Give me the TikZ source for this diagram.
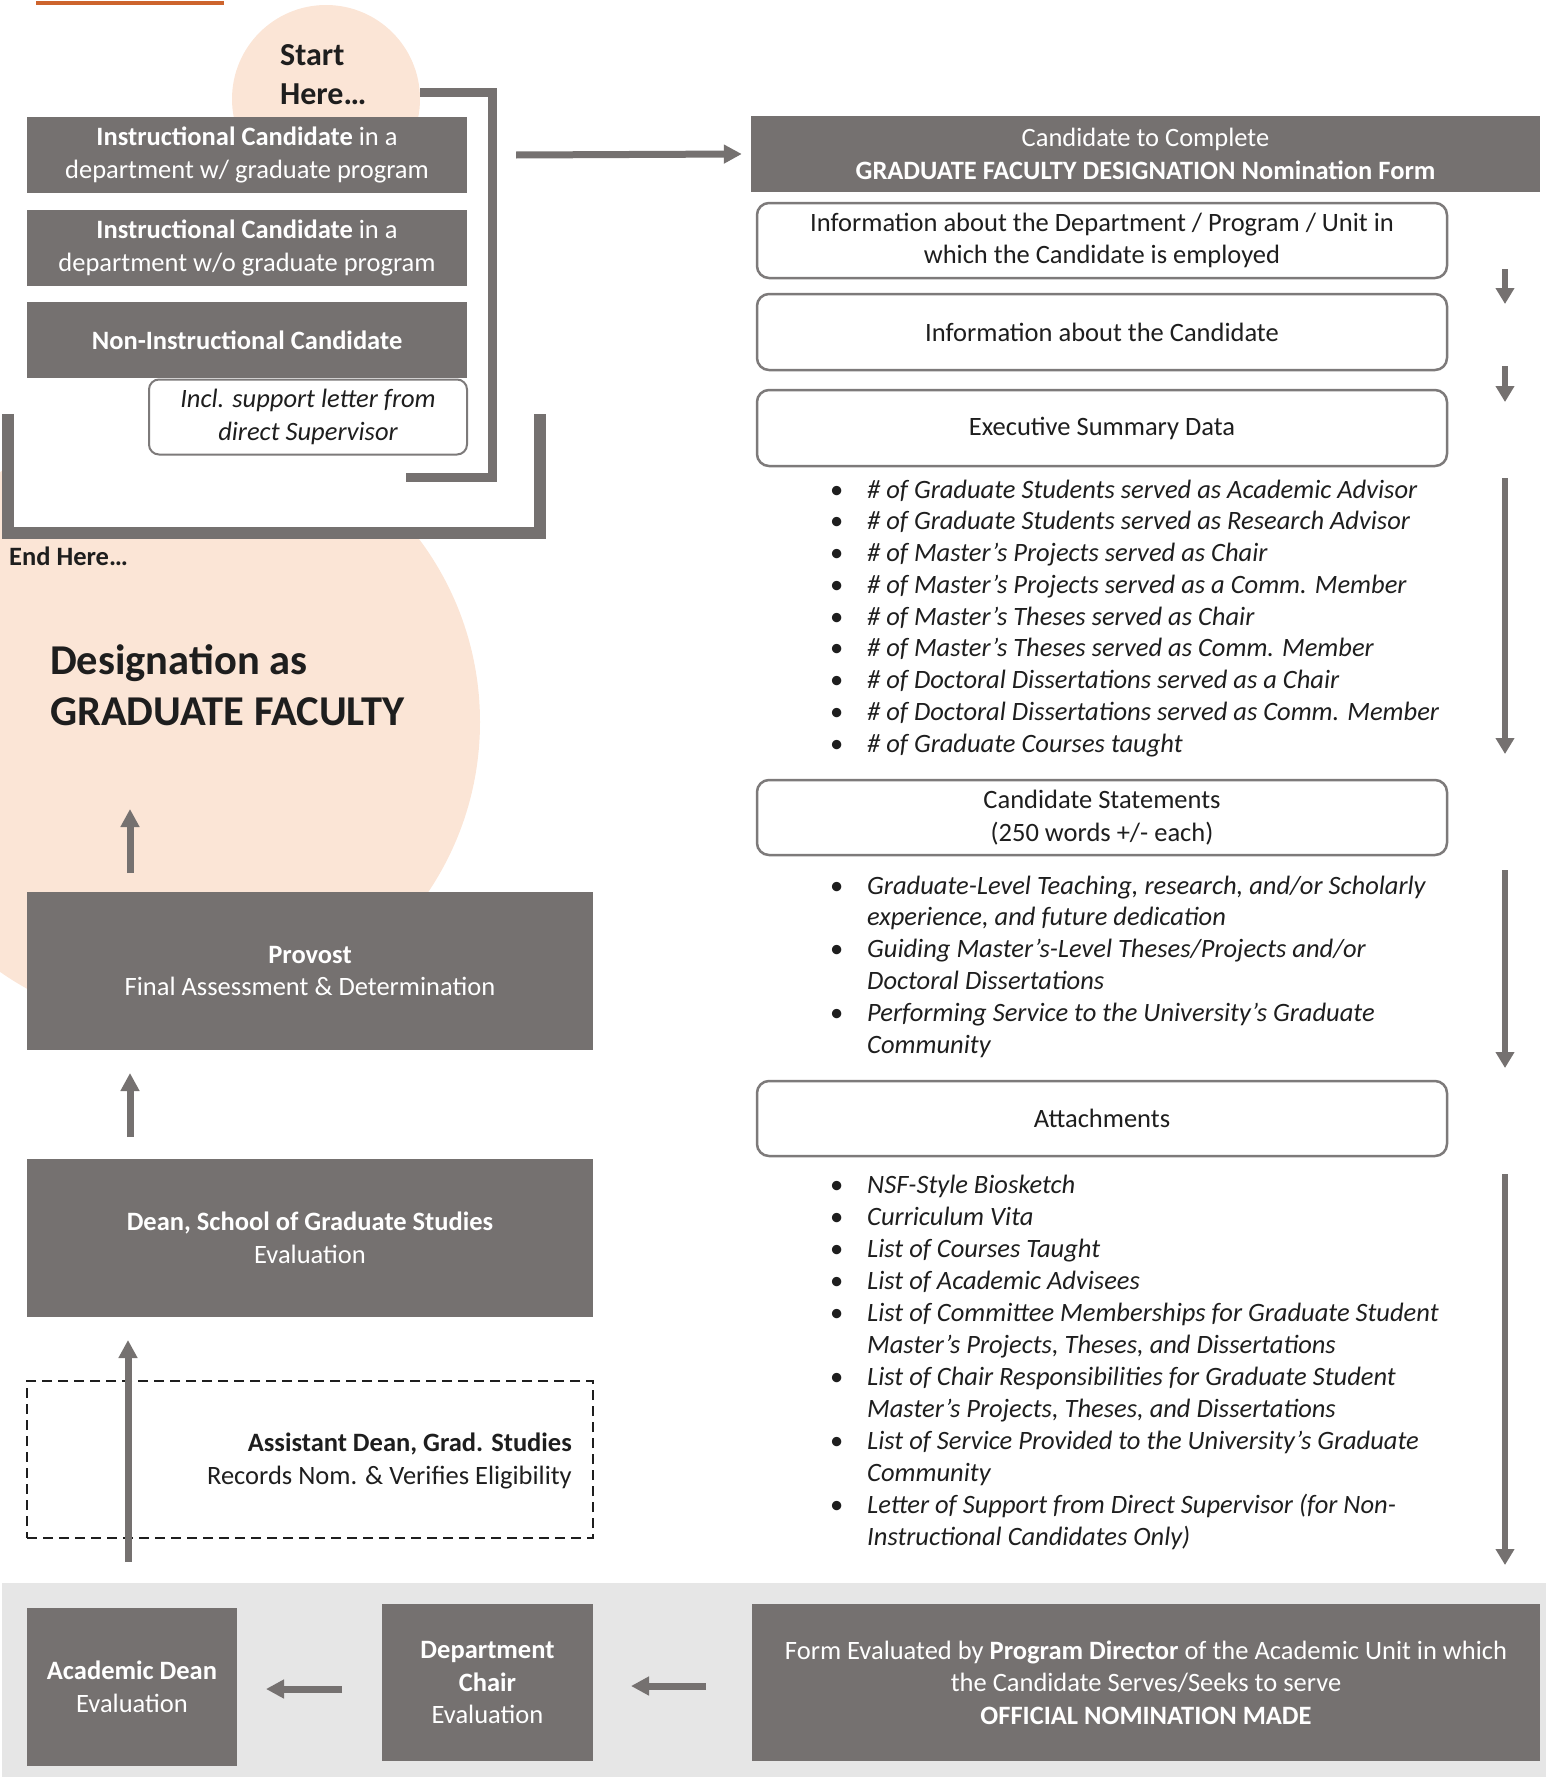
\documentclass[tikz,border=0pt]{standalone}
\usepackage{fontspec}
\setmainfont{Carlito}
\usetikzlibrary{arrows.meta}
\definecolor{boxgray}{RGB}{117,113,112}
\definecolor{peach}{RGB}{251,229,214}
\definecolor{bandgray}{RGB}{230,230,230}
\definecolor{orangeline}{RGB}{205,100,45}
\definecolor{edgegray}{RGB}{125,122,122}
\definecolor{ink}{RGB}{30,30,30}
\newcommand\bodyfont{\fontsize{26.5}{32.5}\selectfont}
\newcommand\bitem[3]{\node[listtxt] (#1) at (835,#2) {\makebox[32pt][l]{\hspace{-5pt}\upshape •}#3};}
\newcommand\citem[3]{\node[listtxt] (#1) at (867,#2) {#3};}
\begin{document}
\begin{tikzpicture}[x=1pt,y=-1pt,
  darkbox/.style={fill=boxgray, text=white, inner sep=0pt, align=center, font=\bodyfont},
  roundbox/.style={draw=edgegray, line width=2.5pt, rounded corners=12pt, fill=white, text=ink, inner sep=0pt, align=center, font=\bodyfont},
  listtxt/.style={anchor=base west, inner sep=0pt, text=ink, font=\bodyfont\itshape},
  arrbig/.style={draw=boxgray, line width=7pt, -{Triangle[width=18pt,length=18pt]}},
  arrthin/.style={draw=boxgray, line width=5.5pt, -{Triangle[width=18pt,length=16pt]}},
  bracketline/.style={draw=boxgray, line join=miter}]
\path[use as bounding box] (0,0) rectangle (1546,1777);
\clip (0,0) rectangle (1546,1777);

% decorative orange rule
\draw[orangeline, line width=4pt] (36,3) -- (224,3);

% peach circles
\node[circle, fill=peach, inner sep=0pt, minimum size=188pt] (startc) at (326,99) {};
\node[circle, fill=peach, inner sep=0pt, minimum size=610pt] (endc) at (175,722) {};

% white interior of the end bracket
\node[fill=white, inner sep=0pt, minimum width=532pt, minimum height=119pt] (endbox) at (274,473.5) {};

% start text
\node[anchor=west, align=left, inner sep=0pt, text=ink, font=\fontsize{32}{39}\selectfont\bfseries] (starttxt) at (280,74.5) {Start\\Here…};

% candidate boxes
\node[darkbox, minimum width=440pt, minimum height=76pt] (ic1) at (247,155)
  {\textbf{Instructional Candidate} in a\\department w/ graduate program};
\node[darkbox, minimum width=440pt, minimum height=76pt] (ic2) at (247,248)
  {\textbf{Instructional Candidate} in a\\department w/o graduate program};
\node[darkbox, minimum width=440pt, minimum height=76pt] (nic) at (247,340)
  {\textbf{Non-Instructional Candidate}};
\node[draw=edgegray, line width=2pt, rounded corners=10pt, fill=white, text=ink, inner sep=0pt,
  align=center, font=\bodyfont\itshape, minimum width=318pt, minimum height=75pt] (incl) at (308,417)
  {Incl. support letter from\\direct Supervisor};

% brackets
\draw[bracketline, line width=9pt] ([yshift=7pt]startc.east) -- (492,92) -- (492,477) -- (406,477);
\draw[bracketline, line width=12pt] (endbox.north west) -- (endbox.south west) -- (endbox.south east) -- (endbox.north east);

\node[anchor=west, inner sep=0pt, text=ink, font=\fontsize{26.5}{30}\selectfont\bfseries] (endtxt) at (9,556) {End Here…};
\node[anchor=west, align=left, inner sep=0pt, text=ink, font=\fontsize{42.5}{51}\selectfont\bfseries] (desig) at (50,685)
  {Designation as\\GRADUATE FACULTY};

% left column process
\node[darkbox, minimum width=566pt, minimum height=158pt] (prov) at (310,971)
  {\textbf{Provost}\\Final Assessment \& Determination};
\node[darkbox, minimum width=566pt, minimum height=158pt] (dean) at (310,1238)
  {\textbf{Dean, School of Graduate Studies}\\Evaluation};
\node[draw=ink, line width=2.5pt, dash pattern=on 10pt off 6pt, inner sep=0pt,
  minimum width=566pt, minimum height=157pt] (asstbox) at (310,1459.5) {};
\node[anchor=east, align=right, inner sep=0pt, text=ink, font=\bodyfont] (asst) at (572,1461)
  {\textbf{Assistant Dean, Grad. Studies}\\Records Nom. \& Verifies Eligibility};

% bottom band
\fill[bandgray] (2,1583) rectangle (1546,1777);
\node[darkbox, minimum width=210pt, minimum height=158pt] (acad) at (132,1687)
  {\textbf{Academic Dean}\\Evaluation};
\node[darkbox, minimum width=211pt, minimum height=157pt] (chair) at (487.5,1682.5)
  {\textbf{Department}\\\textbf{Chair}\\Evaluation};
\node[darkbox, minimum width=788pt, minimum height=157pt] (form) at (1146,1682.5)
  {Form Evaluated by \textbf{Program Director} of the Academic Unit in which\\the Candidate Serves/Seeks to serve\\\textbf{OFFICIAL NOMINATION MADE}};

% right column
\node[darkbox, minimum width=789pt, minimum height=76pt] (hdr) at (1145.5,154)
  {Candidate to Complete\\\textbf{GRADUATE FACULTY DESIGNATION Nomination Form}};
\node[roundbox, minimum width=690pt, minimum height=75pt] (infodept) at (1102,240.5)
  {Information about the Department / Program / Unit in\\which the Candidate is employed};
\node[roundbox, minimum width=690pt, minimum height=76pt] (infocand) at (1102,332)
  {Information about the Candidate};
\node[roundbox, minimum width=690pt, minimum height=76pt] (exec) at (1102,428)
  {Executive Summary Data};
\node[roundbox, minimum width=690pt, minimum height=75pt] (stmt) at (1102,817.5)
  {Candidate Statements\\(250 words +/- each)};
\node[roundbox, minimum width=690pt, minimum height=75pt] (attach) at (1102,1118.5)
  {Attachments};

% lists
\bitem{s1}{498}{\# of Graduate Students served as Academic Advisor}
\bitem{s2}{529.75}{\# of Graduate Students served as Research Advisor}
\bitem{s3}{561.5}{\# of Master’s Projects served as Chair}
\bitem{s4}{593.25}{\# of Master’s Projects served as a Comm. Member}
\bitem{s5}{625}{\# of Master’s Theses served as Chair}
\bitem{s6}{656.75}{\# of Master’s Theses served as Comm. Member}
\bitem{s7}{688.5}{\# of Doctoral Dissertations served as a Chair}
\bitem{s8}{720.25}{\# of Doctoral Dissertations served as Comm. Member}
\bitem{s9}{752}{\# of Graduate Courses taught}

\bitem{c1}{894}{Graduate-Level Teaching, research, and/or Scholarly}
\citem{c1b}{925.8}{experience, and future dedication}
\bitem{c2}{957.6}{Guiding Master’s-Level Theses/Projects and/or}
\citem{c2b}{989.4}{Doctoral Dissertations}
\bitem{c3}{1021.2}{Performing Service to the University’s Graduate}
\citem{c3b}{1053}{Community}

\bitem{a1}{1193}{NSF-Style Biosketch}
\bitem{a2}{1225}{Curriculum Vita}
\bitem{a3}{1257}{List of Courses Taught}
\bitem{a4}{1289}{List of Academic Advisees}
\bitem{a5}{1321}{List of Committee Memberships for Graduate Student}
\citem{a5b}{1353}{Master’s Projects, Theses, and Dissertations}
\bitem{a6}{1385}{List of Chair Responsibilities for Graduate Student}
\citem{a6b}{1417}{Master’s Projects, Theses, and Dissertations}
\bitem{a7}{1449}{List of Service Provided to the University’s Graduate}
\citem{a7b}{1481}{Community}
\bitem{a8}{1513}{Letter of Support from Direct Supervisor (for Non-}
\citem{a8b}{1545}{Instructional Candidates Only)}

% arrow end points
\coordinate (pA) at (130,873);  \coordinate (pB) at (130,809);
\coordinate (dA) at (130,1137); \coordinate (dB) at (130,1073);
\coordinate (bA) at (128,1562); \coordinate (bB) at (128,1340);
\coordinate (cA) at (342,1689); \coordinate (cB) at (266,1689);
\coordinate (fA) at (706,1686); \coordinate (fB) at (631,1686);
\coordinate (r1a) at (1505,269);  \coordinate (r1b) at (1505,304);
\coordinate (r2a) at (1505,366);  \coordinate (r2b) at (1505,402);
\coordinate (r3a) at (1505,478);  \coordinate (r3b) at (1505,754);
\coordinate (r4a) at (1505,870);  \coordinate (r4b) at (1505,1068);
\coordinate (r5a) at (1505,1174); \coordinate (r5b) at (1505,1565);

% arrows
\draw[arrbig] ([xshift=49pt]ic1.east) -- ([xshift=-9pt]hdr.west);
\draw[arrbig] (pA) -- (pB);
\draw[arrbig] (dA) -- (dB);
\draw[arrbig] (bA) -- (bB);
\draw[arrbig] (cA) -- (cB);
\draw[arrbig] (fA) -- (fB);
\draw[arrthin] (r1a) -- (r1b);
\draw[arrthin] (r2a) -- (r2b);
\draw[arrthin] (r3a) -- (r3b);
\draw[arrthin] (r4a) -- (r4b);
\draw[arrthin] (r5a) -- (r5b);
\end{tikzpicture}
\end{document}
